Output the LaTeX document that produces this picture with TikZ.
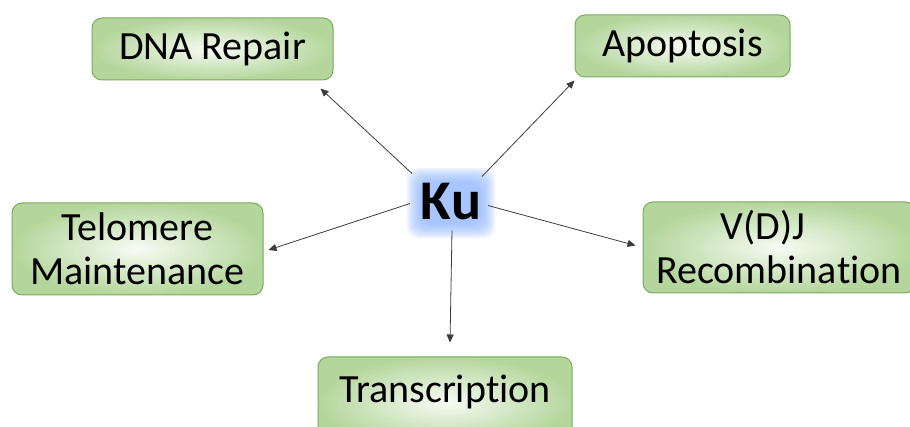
\documentclass[tikz,border=0pt]{standalone}
\usepackage{fontspec}
\setmainfont{Carlito}[RawFeature={-liga;-clig;-calt;-dlig}]
\usetikzlibrary{arrows.meta,backgrounds}
\definecolor{boxedge}{RGB}{122,170,92}
\definecolor{boxout}{RGB}{180,214,156}
\definecolor{boxin}{RGB}{247,251,244}
\definecolor{kuglow}{RGB}{140,178,255}
\definecolor{conncol}{RGB}{60,60,60}
\begin{document}
\begin{tikzpicture}[x=1pt,y=-1pt,
  topic/.style={draw=boxedge, line width=1pt, rounded corners=10pt,
    inner color=boxin, outer color=boxout,
    font=\fontsize{40}{44}\selectfont, align=center, inner sep=0pt},
  conn/.style={draw=conncol, line width=0.8pt, -{Triangle[length=8pt,width=7pt]}},
  kustyle/.style={font=\fontsize{56}{60}\selectfont\bfseries, inner sep=0pt}]
\useasboundingbox (0,0) rectangle (910,427);
\clip (0,0) rectangle (910,427);

\node[topic, minimum width=241pt, minimum height=62pt] (dna) at (212.5,49) {DNA Repair};
\node[topic, minimum width=215pt, minimum height=62pt] (apo) at (682.5,46) {Apoptosis};
\node[topic, minimum width=251pt, minimum height=92pt] (tel) at (137.5,249) {Telomere\\Maintenance};
\node[topic, minimum width=272pt, minimum height=91pt] (vdj) at (779,247.5) {V(D)J\hspace*{32pt}\\Recombina\kern0pt tion};
\node[topic, minimum width=254pt, minimum height=90pt, text height=29pt, text depth=28pt] (tra) at (445,402) {Transcrip\kern0pt tion};

\node[kustyle] (ku) at (451,201.5) {Ku};
\begin{scope}[on background layer]
  \foreach \e in {14,12,10,8,6,4,2,0}{
    \fill[kuglow, opacity=0.16, rounded corners=12pt]
      ([shift={(-\e,-\e-1)}]ku.north west) rectangle ([shift={(\e,\e+4)}]ku.south east);
  }
\end{scope}

\draw[conn] ([shift={(-39,-28)}]ku.center) -- ([shift={(-13,8)}]dna.south east);
\draw[conn] ([shift={(31,-25)}]ku.center) -- ([shift={(0,3)}]apo.south west);
\draw[conn] ([shift={(-41,2)}]ku.center) -- ([shift={(5,1)}]tel.east);
\draw[conn] ([shift={(37,4)}]ku.center) -- ([shift={(-7,-2)}]vdj.west);
\draw[conn] ([shift={(1,29)}]ku.center) -- ([shift={(5,-14)}]tra.north);
\end{tikzpicture}
\end{document}
